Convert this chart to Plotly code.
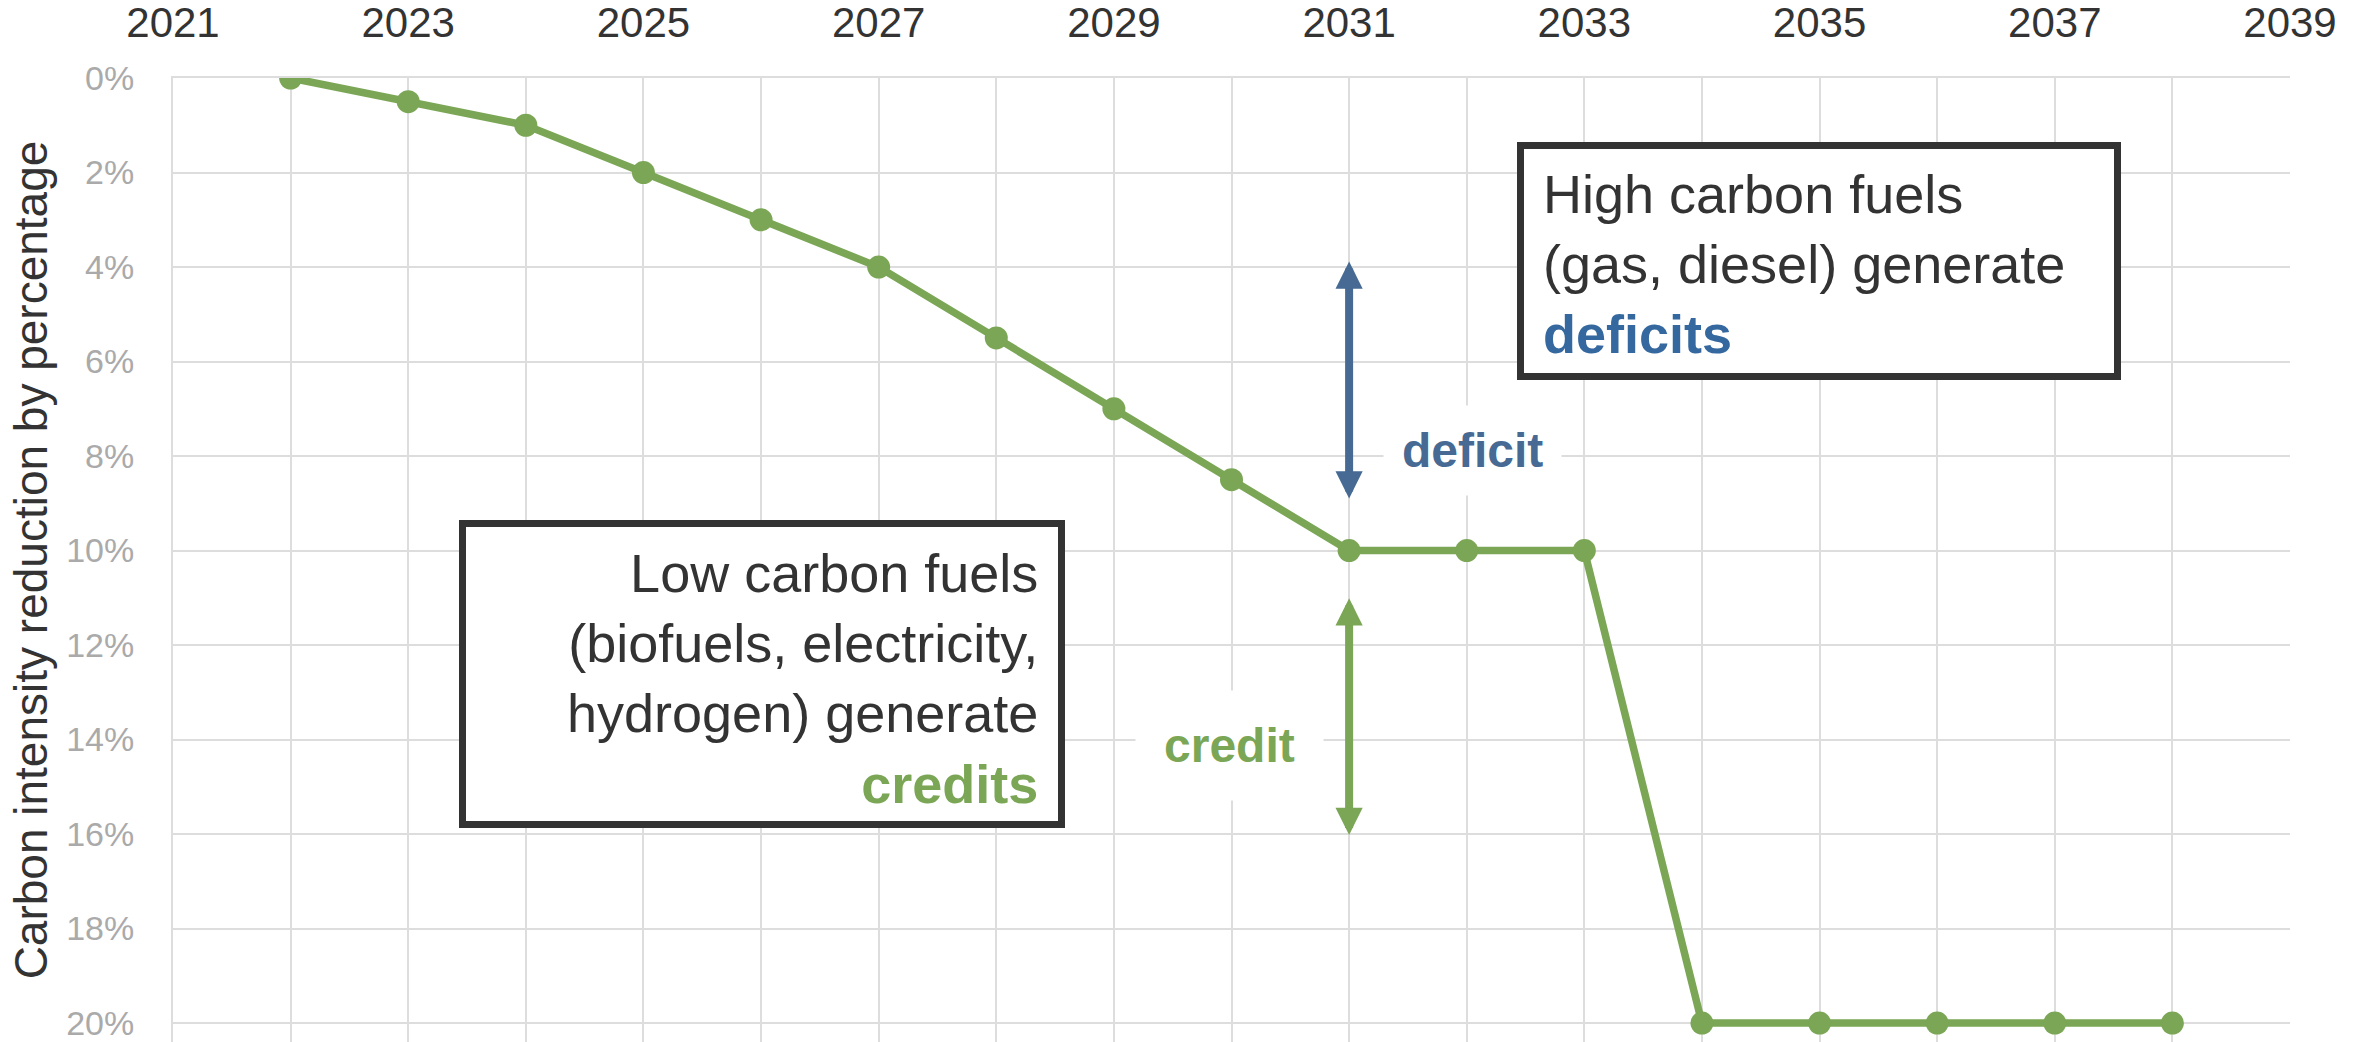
import plotly.graph_objects as go

# ---- data ----
years = [2022, 2023, 2024, 2025, 2026, 2027, 2028, 2029, 2030,
         2031, 2032, 2033, 2034, 2035, 2036, 2037, 2038]
reduction_pct = [0, 0.5, 1, 2, 3, 4, 5.5, 7, 8.5,
                 10, 10, 10, 20, 20, 20, 20, 20]
x_tick_years = [2021, 2023, 2025, 2027, 2029, 2031, 2033, 2035, 2037, 2039]
y_tick_vals = [0, 2, 4, 6, 8, 10, 12, 14, 16, 18, 20]
deficit_arrow = dict(x=2031, y_from=3.85, y_to=8.9)
credit_arrow = dict(x=2031, y_from=10.98, y_to=16.02)

# ---- geometry ----
W, H = 2371, 1042
L, R, T, B = 173, 2290, 78, 1042
X0, X1 = 2021, 2039
Y0, Y1 = 0, 20.4


def dx(px):
    return X0 + (px - L) / (R - L) * (X1 - X0)


def dy(py):
    return Y0 + (py - T) / (B - T) * (Y1 - Y0)


GREEN = "#7aa655"
BLUE = "#466a93"
BLUE_TXT = "#35689e"
DARK = "#333333"
GRID = "#dddddd"
FONT = "Liberation Sans, Arial, sans-serif"

fig = go.Figure()
fig.add_trace(go.Scatter(
    x=years, y=reduction_pct, mode="lines+markers",
    line=dict(color=GREEN, width=7.5),
    marker=dict(color=GREEN, size=23),
    showlegend=False, hoverinfo="skip",
))

# boxes
for (x0, y0, x1, y1) in [(1517, 142, 2121, 380), (459, 520, 1065, 828)]:
    fig.add_shape(type="rect", xref="x", yref="y",
                  x0=dx(x0 + 3.5), x1=dx(x1 - 3.5),
                  y0=dy(y0 + 3.5), y1=dy(y1 - 3.5),
                  line=dict(color=DARK, width=7), fillcolor="white",
                  layer="above")

fig.add_annotation(
    x=dx(1541), y=dy(264), xref="x", yref="y",
    xanchor="left", yanchor="middle", align="left", showarrow=False,
    text=("High carbon fuels<br>(gas, diesel) generate<br>"
          f"<span style='color:{BLUE_TXT}'><b>deficits</b></span>"),
    font=dict(family=FONT, size=54, color=DARK),
)
fig.add_annotation(
    x=dx(1040), y=dy(678), xref="x", yref="y",
    xanchor="right", yanchor="middle", align="right", showarrow=False,
    text=("Low carbon fuels<br>(biofuels, electricity,<br>hydrogen) generate<br>"
          f"<span style='color:{GREEN}'><b>credits</b></span>"),
    font=dict(family=FONT, size=54, color=DARK),
)

# arrow labels
fig.add_annotation(
    x=dx(1472), y=dy(450), xref="x", yref="y", showarrow=False,
    text="<b>deficit</b>", font=dict(family=FONT, size=48, color=BLUE),
    bgcolor="white", borderpad=18,
)
fig.add_annotation(
    x=dx(1229), y=dy(745), xref="x", yref="y", showarrow=False,
    text="<b>credit</b>", font=dict(family=FONT, size=48, color=GREEN),
    bgcolor="white", borderpad=28,
)

# arrows
for arr, col in [(deficit_arrow, BLUE), (credit_arrow, GREEN)]:
    fig.add_annotation(
        x=arr["x"], y=arr["y_to"], ax=arr["x"], ay=arr["y_from"],
        xref="x", yref="y", axref="x", ayref="y", text="",
        showarrow=True, arrowside="end+start",
        arrowhead=2, startarrowhead=2, arrowsize=0.68, startarrowsize=0.68,
        arrowwidth=8, arrowcolor=col, standoff=0, startstandoff=0,
    )

fig.update_layout(
    width=W, height=H,
    margin=dict(l=L, r=W - R, t=T, b=H - B),
    paper_bgcolor="white", plot_bgcolor="white",
    font=dict(family=FONT),
    xaxis=dict(
        range=[X0, X1], side="top", tickvals=x_tick_years,
        ticktext=[str(v) for v in x_tick_years],
        showgrid=True, gridcolor=GRID, gridwidth=2,
        minor=dict(dtick=1, tick0=2021, showgrid=True, gridcolor=GRID, gridwidth=2),
        zeroline=False, showline=True, linecolor=GRID, linewidth=2, ticks="",
        tickfont=dict(size=42, color=DARK), ticklabelstandoff=22,
        ticklabeloverflow="allow",
    ),
    yaxis=dict(
        range=[Y1, Y0], tickvals=y_tick_vals,
        ticktext=[f"{v}%" for v in y_tick_vals],
        showgrid=True, gridcolor=GRID, gridwidth=2,
        zeroline=False, showline=True, linecolor=GRID, linewidth=2, ticks="",
        tickfont=dict(size=34, color="#aaaaaa"), ticklabelstandoff=30,
        ticklabeloverflow="allow",
        title=dict(text="Carbon intensity reduction by percentage",
                   font=dict(size=46, color=DARK), standoff=4),
    ),
)

fig.write_html(
    "out.html",
    config={"displayModeBar": False},
    post_script="document.body.style.margin='0';document.body.style.overflow='hidden';",
)
